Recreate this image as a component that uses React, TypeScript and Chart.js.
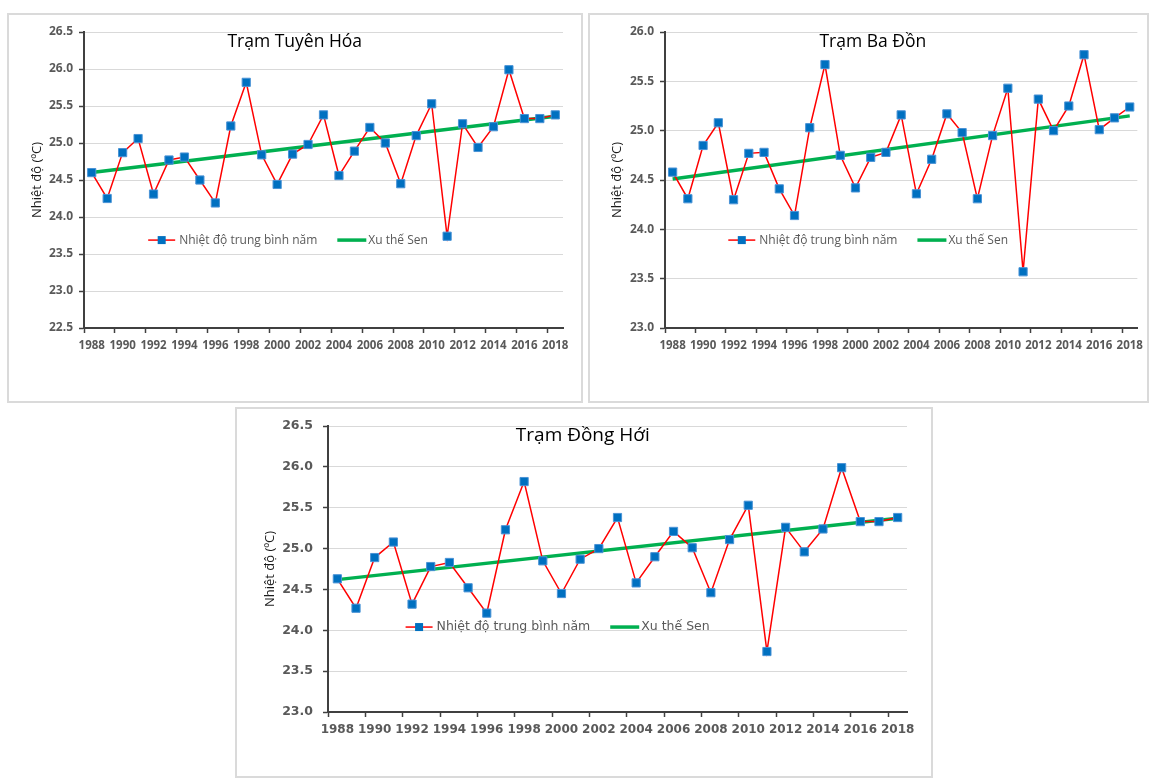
import React, { useEffect, useRef } from "react";
import { Chart, registerables } from "chart.js";

Chart.register(...registerables);

// ---------- data ----------
const years = [
  1988, 1989, 1990, 1991, 1992, 1993, 1994, 1995, 1996, 1997, 1998, 1999, 2000, 2001, 2002, 2003,
  2004, 2005, 2006, 2007, 2008, 2009, 2010, 2011, 2012, 2013, 2014, 2015, 2016, 2017, 2018,
];
const xLabelYears = [1988, 1990, 1992, 1994, 1996, 1998, 2000, 2002, 2004, 2006, 2008, 2010, 2012, 2014, 2016, 2018];

const tuyenHoaTemp = [
  24.6, 24.25, 24.87, 25.06, 24.31, 24.77, 24.81, 24.5, 24.19, 25.23, 25.82, 24.84, 24.44, 24.85, 24.98, 25.38,
  24.56, 24.89, 25.21, 25.0, 24.45, 25.1, 25.53, 23.74, 25.26, 24.94, 25.22, 25.99, 25.33, 25.33, 25.38,
];
const baDonTemp = [
  24.58, 24.31, 24.85, 25.08, 24.3, 24.77, 24.78, 24.41, 24.14, 25.03, 25.67, 24.75, 24.42, 24.73, 24.78, 25.16,
  24.36, 24.71, 25.17, 24.98, 24.31, 24.95, 25.43, 23.57, 25.32, 25.0, 25.25, 25.77, 25.01, 25.13, 25.24,
];
const dongHoiTemp = [
  24.63, 24.27, 24.89, 25.08, 24.32, 24.78, 24.83, 24.52, 24.21, 25.23, 25.82, 24.85, 24.45, 24.87, 25.0, 25.38,
  24.58, 24.9, 25.21, 25.01, 24.46, 25.11, 25.53, 23.74, 25.26, 24.96, 25.24, 25.99, 25.33, 25.33, 25.38,
];

const trendYears = [1988, 2018];
const tuyenHoaTrend = [24.6, 25.36];
const baDonTrend = [24.51, 25.15];
const dongHoiTrend = [24.62, 25.37];

const seriesLabel = "Nhiệt độ trung bình năm";
const trendLabel = "Xu thế Sen";
const yTitle = "Nhiệt độ (ºC)";

// ---------- styling / layout ----------
const AXIS = "#404040";
const GRID = "#d9d9d9";
const TICK_TEXT = "#595959";

type Panel = {
  title: string;
  temps: number[];
  trend: number[];
  yMin: number;
  yMax: number;
  box: { left: number; top: number; width: number; height: number };
  yAxisWidth: number;
  yTitlePad: number;
  yTickPad: number;
  padTop: number;
  padRight: number;
  padBottom: number;
  xAxisHeight: number;
  family: string;
  tickSize: number;
  titleFont: string;
  legendFont: string;
};

const panels: Panel[] = [
  {
    title: "Trạm Tuyên Hóa",
    temps: tuyenHoaTemp,
    trend: tuyenHoaTrend,
    yMin: 22.5,
    yMax: 26.5,
    box: { left: 7, top: 13, width: 576, height: 390 },
    yAxisWidth: 77,
    yTitlePad: 22,
    yTickPad: 6,
    padTop: 19,
    padRight: 20,
    padBottom: 45,
    xAxisHeight: 30,
    family: "'Open Sans', sans-serif",
    tickSize: 11.5,
    titleFont: "17.5px 'Open Sans', sans-serif",
    legendFont: "12px 'Open Sans', sans-serif",
  },
  {
    title: "Trạm Ba Đồn",
    temps: baDonTemp,
    trend: baDonTrend,
    yMin: 23.0,
    yMax: 26.0,
    box: { left: 588, top: 13, width: 561, height: 390 },
    yAxisWidth: 77,
    yTitlePad: 21,
    yTickPad: 6,
    padTop: 19,
    padRight: 6,
    padBottom: 45,
    xAxisHeight: 30,
    family: "'Open Sans', sans-serif",
    tickSize: 11.5,
    titleFont: "17.5px 'Open Sans', sans-serif",
    legendFont: "12px 'Open Sans', sans-serif",
  },
  {
    title: "Trạm Đồng Hới",
    temps: dongHoiTemp,
    trend: dongHoiTrend,
    yMin: 23.0,
    yMax: 26.5,
    box: { left: 235, top: 407, width: 698, height: 371 },
    yAxisWidth: 93,
    yTitlePad: 27,
    yTickPad: 10,
    padTop: 19,
    padRight: 26,
    padBottom: 36,
    xAxisHeight: 30,
    family: "'DejaVu Sans', sans-serif",
    tickSize: 12,
    titleFont: "19px 'Open Sans', sans-serif",
    legendFont: "12.5px 'DejaVu Sans', sans-serif",
  },
];

const overlayPlugin = {
  id: "overlay",
  afterDraw(chart: any, _args: any, opts: any) {
    const { ctx, chartArea: a } = chart;
    ctx.save();
    // title inside plot area
    ctx.font = opts.titleFont;
    ctx.fillStyle = "#000000";
    ctx.textAlign = "center";
    ctx.textBaseline = "middle";
    ctx.fillText(opts.title, a.left + a.width * 0.44, a.top + 10);

    // legend inside plot area
    const ds = chart.data.datasets;
    const ly = a.top + a.height * 0.703;
    let x = a.left + a.width * 0.134;
    ctx.strokeStyle = "#ff0000";
    ctx.lineWidth = 1.5;
    ctx.beginPath();
    ctx.moveTo(x, ly);
    ctx.lineTo(x + 27, ly);
    ctx.stroke();
    ctx.fillStyle = "#0070c0";
    ctx.fillRect(x + 13.5 - 4, ly - 4, 8, 8);
    ctx.font = opts.legendFont;
    ctx.fillStyle = TICK_TEXT;
    ctx.textAlign = "left";
    ctx.fillText(ds[0].label, x + 31, ly);
    x = x + 31 + ctx.measureText(ds[0].label).width + 20;
    ctx.strokeStyle = "#00b050";
    ctx.lineWidth = 3.5;
    ctx.beginPath();
    ctx.moveTo(x, ly);
    ctx.lineTo(x + 29, ly);
    ctx.stroke();
    ctx.fillText(ds[1].label, x + 31, ly);
    ctx.restore();
  },
};

function ChartPanel({ p }: { p: Panel }) {
  const ref = useRef<HTMLCanvasElement | null>(null);
  useEffect(() => {
    if (!ref.current) return;
    const chart = new Chart(ref.current, {
      type: "line",
      data: {
        datasets: [
          {
            label: seriesLabel,
            data: years.map((y, i) => ({ x: y, y: p.temps[i] })),
            borderColor: "#ff0000",
            borderWidth: 1.5,
            pointStyle: "rect",
            pointRadius: 5.8,
            pointBackgroundColor: "#0070c0",
            pointBorderColor: "#4a93d6",
            pointBorderWidth: 1,
            tension: 0,
          },
          {
            label: trendLabel,
            data: trendYears.map((y, i) => ({ x: y, y: p.trend[i] })),
            borderColor: "#00b050",
            borderWidth: 3.5,
            pointRadius: 0,
            tension: 0,
          },
        ],
      },
      options: {
        animation: false,
        responsive: false,
        events: [],
        layout: { padding: { left: 0, top: p.padTop, right: p.padRight, bottom: p.padBottom } },
        plugins: {
          legend: { display: false },
          tooltip: { enabled: false },
          title: { display: false },
          overlay: { title: p.title, titleFont: p.titleFont, legendFont: p.legendFont },
        } as any,
        scales: {
          x: {
            type: "linear",
            min: 1987.5,
            max: 2018.5,
            afterBuildTicks: (axis: any) => {
              const vals: number[] = [];
              xLabelYears.forEach((y) => {
                vals.push(y - 0.5);
                vals.push(y);
              });
              axis.ticks = vals.map((v) => ({ value: v }));
            },
            afterFit: (s: any) => {
              s.height = p.xAxisHeight;
            },
            ticks: {
              autoSkip: false,
              maxRotation: 0,
              minRotation: 0,
              padding: 6,
              color: TICK_TEXT,
              font: { family: p.family, size: p.tickSize, weight: "bold" },
              callback: (v: any) => (xLabelYears.includes(Number(v)) ? String(v) : ""),
            },
            grid: {
              drawOnChartArea: false,
              drawTicks: true,
              tickLength: 5,
              tickWidth: 1.5,
              tickColor: (c: any) =>
                c.tick && Number.isInteger(c.tick.value) ? "rgba(0,0,0,0)" : AXIS,
            },
            border: { display: true, color: AXIS, width: 2 },
          },
          y: {
            min: p.yMin,
            max: p.yMax,
            afterFit: (s: any) => {
              s.width = p.yAxisWidth;
            },
            ticks: {
              stepSize: 0.5,
              padding: p.yTickPad,
              color: TICK_TEXT,
              font: { family: p.family, size: p.tickSize + 0.5, weight: "bold" },
              callback: (v: any) => Number(v).toFixed(1),
            },
            grid: {
              color: GRID,
              lineWidth: 1,
              drawTicks: true,
              tickLength: 5,
              tickColor: AXIS,
              tickWidth: 1.5,
            },
            border: { display: true, color: AXIS, width: 2 },
            title: {
              display: true,
              text: yTitle,
              color: "#1a1a1a",
              font: { family: "'Open Sans', sans-serif", size: 13 },
              padding: { top: p.yTitlePad, bottom: 0 },
            },
          },
        },
      },
      plugins: [overlayPlugin as any],
    });
    return () => chart.destroy();
  }, [p]);

  const b = p.box;
  return (
    <>
      <div
        style={{
          position: "absolute",
          left: b.left,
          top: b.top,
          width: b.width,
          height: b.height,
          boxSizing: "border-box",
          border: "2px solid #dadada",
          background: "#ffffff",
        }}
      />
      <canvas
        ref={ref}
        width={b.width}
        height={b.height}
        style={{ position: "absolute", left: b.left, top: b.top, width: b.width, height: b.height }}
      />
    </>
  );
}

export default function App() {
  return (
    <div
      style={{
        position: "absolute",
        left: 0,
        top: 0,
        width: 1150,
        height: 778,
        overflow: "hidden",
        background: "#ffffff",
      }}
    >
      {panels.map((p, i) => (
        <ChartPanel key={i} p={p} />
      ))}
    </div>
  );
}
